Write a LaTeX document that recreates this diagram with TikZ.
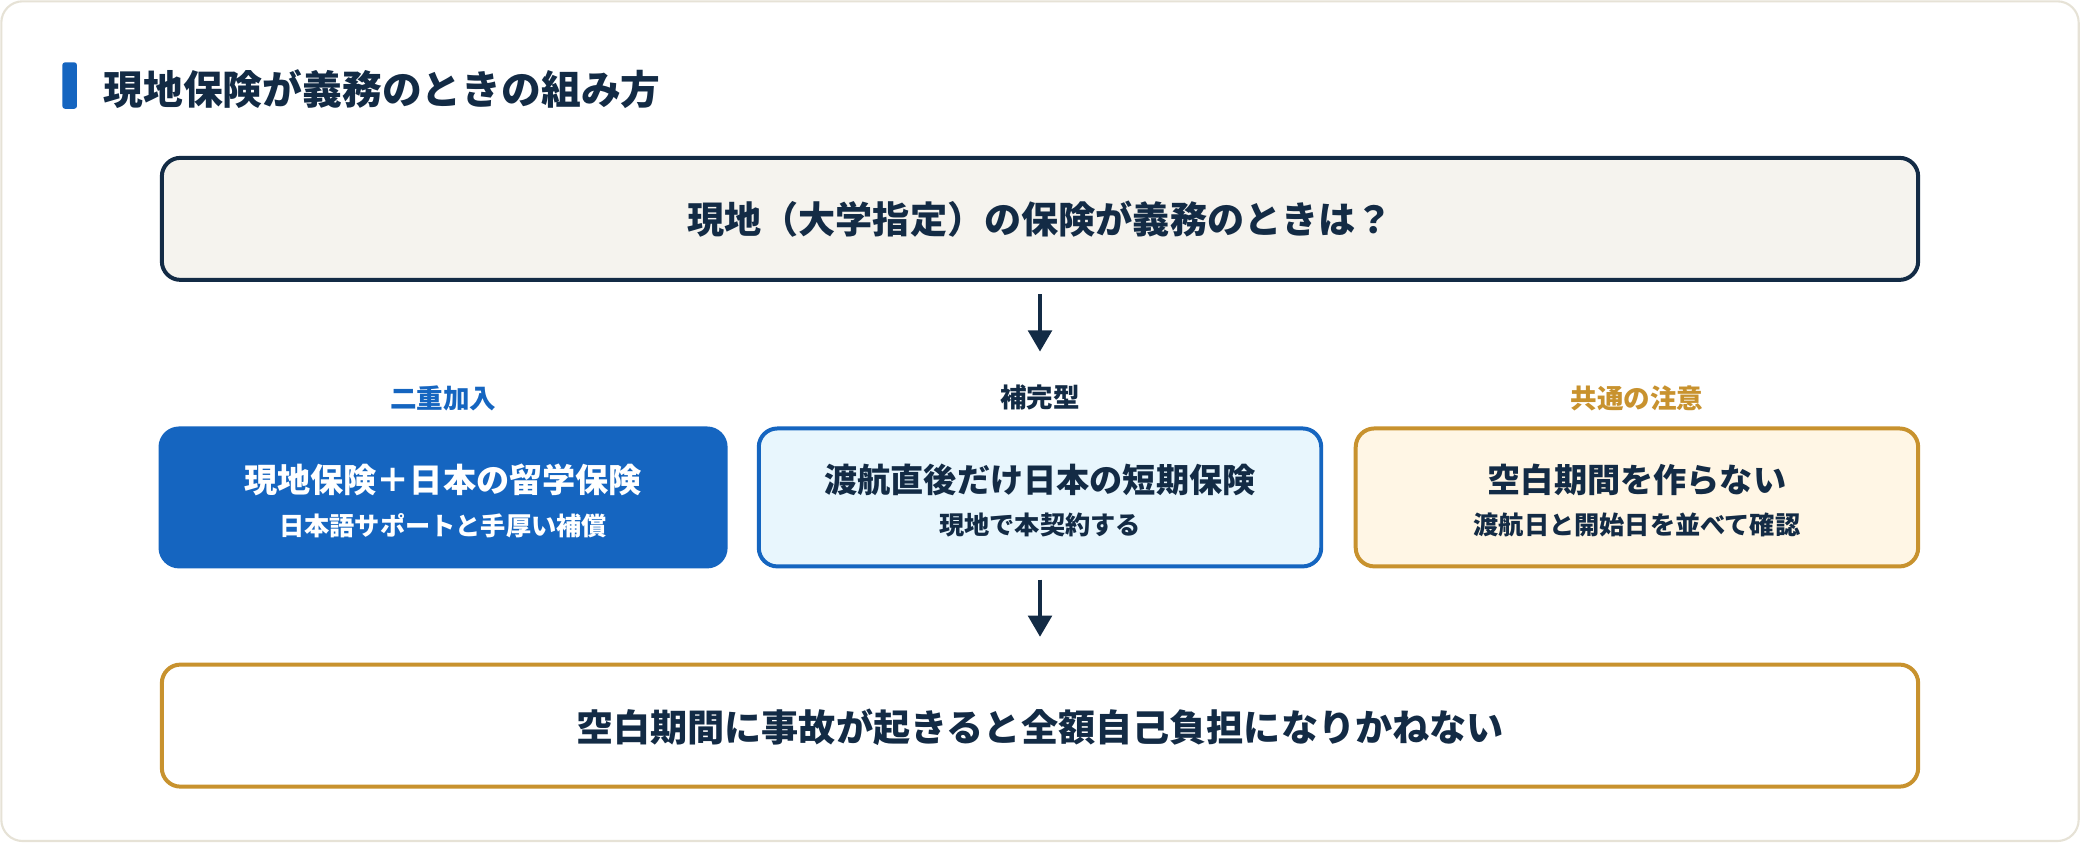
\documentclass[tikz,border=0pt]{standalone}
\usepackage{fontspec}
\setmainfont{Noto Sans CJK JP}
\usetikzlibrary{arrows.meta}
\definecolor{navy}{HTML}{132B45}
\definecolor{blue}{HTML}{1565C0}
\definecolor{gold}{HTML}{C8922E}
\definecolor{cream}{HTML}{F5F3EE}
\definecolor{lblue}{HTML}{E8F6FD}
\definecolor{lgold}{HTML}{FFF6E5}
\definecolor{edge}{HTML}{E6E2D6}
\begin{document}
\begin{tikzpicture}[x=0.5pt,y=-0.5pt,font=\bfseries,
 box/.style={draw,line width=1.5pt,rounded corners=7pt,minimum height=46pt},
 arr/.style={draw=navy,line width=1.2pt,-{Triangle[length=8pt,width=9pt]}},
 lab/.style={font=\bfseries\fontsize{10}{12}\selectfont},
 mt/.style={font=\bfseries\fontsize{12.5}{15}\selectfont},
 st/.style={font=\bfseries\fontsize{9.5}{12}\selectfont}]
\useasboundingbox (0,0) rectangle (1568,635);
\draw[edge,fill=white,line width=0.8pt,rounded corners=8pt] (1,1) rectangle (1567,634);
\fill[blue,rounded corners=1pt] (47,47) rectangle (58,82);
\node[anchor=west,text=navy,font=\bfseries\fontsize{15}{18}\selectfont] (title) at (71,67) {現地保険が義務のときの組み方};
\node[box,draw=navy,fill=cream,minimum width=662pt] (top) at (784,165) {};
\node[text=navy,font=\bfseries\fontsize{14}{17}\selectfont] (toptxt) at (784,165) {現地（大学指定）の保険が義務のときは？};
\coordinate (a1s) at (784,222); \coordinate (a1e) at (784,265);
\draw[arr] (a1s) -- (a1e);
\node[lab,text=blue] (l1) at (334,300) {二重加入};
\node[lab,text=navy] (l2) at (784,300) {補完型};
\node[lab,text=gold] (l3) at (1234,300) {共通の注意};
\node[box,draw=blue,fill=blue,minimum width=213pt,minimum height=52pt] (b1) at (334,375) {};
\node[box,draw=blue,fill=lblue,minimum width=212pt,minimum height=52pt] (b2) at (784,375) {};
\node[box,draw=gold,fill=lgold,minimum width=212pt,minimum height=52pt] (b3) at (1234,375) {};
\node[mt,text=white] (b1m) at (334,362) {現地保険＋日本の留学保険};
\node[st,text=white] (b1s) at (334,396) {日本語サポートと手厚い補償};
\node[mt,text=navy] (b2m) at (784,362) {渡航直後だけ日本の短期保険};
\node[st,text=navy] (b2s) at (784,396) {現地で本契約する};
\node[mt,text=navy] (b3m) at (1234,362) {空白期間を作らない};
\node[st,text=navy] (b3s) at (1234,396) {渡航日と開始日を並べて確認};
\coordinate (a2s) at (784,437); \coordinate (a2e) at (784,480);
\draw[arr] (a2s) -- (a2e);
\node[box,draw=gold,fill=white,minimum width=662pt] (bot) at (784,547) {};
\node[text=navy,font=\bfseries\fontsize{14}{17}\selectfont] (bottxt) at (784,548) {空白期間に事故が起きると全額自己負担になりかねない};
\end{tikzpicture}
\end{document}
